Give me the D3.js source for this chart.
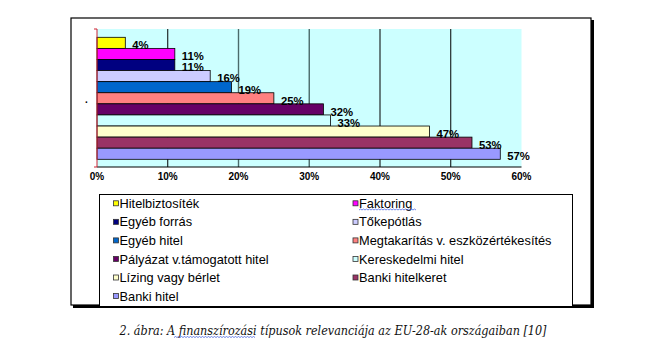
<!DOCTYPE html>
<html>
<head>
<meta charset="utf-8">
<script src="https://cdn.jsdelivr.net/npm/d3@7"></script>
<style>
body { margin: 0; background: #fff; }
</style>
</head>
<body>
<div id="chart"></div>
<script>
// data
var categories = ["Hitelbiztosíték", "Faktoring", "Egyéb forrás", "Tőkepótlás", "Egyéb hitel",
    "Megtakarítás v. eszközértékesítés", "Pályázat v.támogatott hitel", "Kereskedelmi hitel",
    "Lízing vagy bérlet", "Banki hitelkeret", "Banki hitel"]
var values = [4, 11, 11, 16, 19, 25, 32, 33, 47, 53, 57]
var colors = ["#FFFF00", "#FF00FF", "#000080", "#CCCCFF", "#0066CC", "#FF8080",
    "#660066", "#CCFFFF", "#FFFFCC", "#993366", "#9999FF"]
var ticks = [0, 10, 20, 30, 40, 50, 60]
var caption = "2. ábra: A finanszírozási típusok relevanciája az EU-28-ak országaiban [10]"

var w = 650, h = 358

var svg = d3.select("#chart").append("svg")
    .attr("width", w)
    .attr("height", h)

// outer frame with shadow
svg.append("rect").attr("x", 73).attr("y", 20).attr("width", 521).attr("height", 288).attr("fill", "#000")
svg.append("rect").attr("x", 71).attr("y", 18).attr("width", 520).attr("height", 287)
    .attr("fill", "#fff").attr("stroke", "#000").attr("stroke-width", 1.2)

var x = d3.scaleLinear().domain([0, 60]).range([97, 521.5])
var y = d3.scaleBand().domain(categories).range([37.3, 159.3]).padding(0)
var plotTop = 29, plotBottom = 167

// plot background
svg.append("rect")
    .attr("x", x(0)).attr("y", plotTop)
    .attr("width", x(60) - x(0)).attr("height", plotBottom - plotTop)
    .attr("fill", "#CCFFFF")

// gridlines
svg.selectAll(".grid")
    .data(ticks.slice(1, -1))
    .enter()
    .append("line")
    .attr("x1", function(d) { return x(d) })
    .attr("x2", function(d) { return x(d) })
    .attr("y1", plotTop).attr("y2", plotBottom)
    .attr("stroke", function(d) { return (d == 20 || d == 30) ? "#4a6a6a" : "#000" })
    .attr("stroke-width", function(d) { return (d == 20 || d == 30) ? 1.4 : 1 })

// bars
svg.selectAll(".bar")
    .data(values)
    .enter()
    .append("rect")
    .attr("x", x(0))
    .attr("y", function(d, i) { return y(categories[i]) })
    .attr("width", function(d) { return x(d) - x(0) })
    .attr("height", y.bandwidth())
    .attr("fill", function(d, i) { return colors[i] })
    .attr("stroke", "#000")
    .attr("stroke-width", 0.8)

// value labels
svg.selectAll(".vlabel")
    .data(values)
    .enter()
    .append("text")
    .attr("x", function(d) { return x(d) + 7 })
    .attr("y", function(d, i) { return y(categories[i]) + y.bandwidth() + 0.8 })
    .text(function(d) { return d + "%" })
    .attr("font-family", "Liberation Sans, Arial, sans-serif")
    .attr("font-size", "11.3px")
    .attr("font-weight", "bold")
    .attr("fill", "#000")

// x axis
svg.append("line")
    .attr("x1", x(0)).attr("x2", x(60))
    .attr("y1", plotBottom).attr("y2", plotBottom)
    .attr("stroke", "#000")

svg.selectAll(".tick")
    .data(ticks)
    .enter()
    .append("text")
    .attr("x", function(d) { return x(d) })
    .attr("y", 179.5)
    .attr("text-anchor", "middle")
    .text(function(d) { return d + "%" })
    .attr("font-family", "Liberation Sans, Arial, sans-serif")
    .attr("font-size", "10px")
    .attr("font-weight", "bold")

// category axis (red)
svg.append("path")
    .attr("d", "M" + (x(0) - 3) + "," + plotTop + "H" + x(0) + "V" + plotBottom + "H" + (x(0) - 3))
    .attr("fill", "none")
    .attr("stroke", "#cc2233")
    .attr("stroke-width", 1)

svg.append("text")
    .attr("x", 85).attr("y", 103)
    .text(".")
    .attr("font-family", "Liberation Sans, Arial, sans-serif")
    .attr("font-size", "10px")
    .attr("font-weight", "bold")

// legend
svg.append("rect")
    .attr("x", 99.5).attr("y", 194.5)
    .attr("width", 473).attr("height", 112)
    .attr("fill", "#fff").attr("stroke", "#000").attr("stroke-width", 1)

var legend = svg.selectAll(".legend")
    .data(categories)
    .enter()
    .append("g")
    .attr("transform", function(d, i) {
        var col = i % 2, row = Math.floor(i / 2)
        return "translate(" + (col == 0 ? 113 : 352.5) + "," + (203.3 + row * 18.55) + ")"
    })

legend.append("rect")
    .attr("x", 0.5).attr("y", -2.5)
    .attr("width", 5).attr("height", 5)
    .attr("fill", function(d, i) { return colors[i] })
    .attr("stroke", "#333")
    .attr("stroke-width", 0.8)

legend.append("text")
    .attr("x", 6.5).attr("y", 4.6)
    .text(function(d) { return d })
    .attr("font-family", "Liberation Sans, Arial, sans-serif")
    .attr("font-size", "12.8px")
    .attr("fill", "#000")

// spellcheck squiggle under "Faktoring"
function squiggle(x0, x1, yy) {
    var p = d3.path()
    p.moveTo(x0, yy)
    var up = true
    for (var xx = x0 + 1.5; xx <= x1; xx += 1.5) {
        p.lineTo(xx, up ? yy - 1 : yy)
        up = !up
    }
    return p.toString()
}
svg.append("path")
    .attr("d", squiggle(359, 417, 210))
    .attr("fill", "none").attr("stroke", "#3355dd").attr("stroke-width", 0.7)

// caption
svg.append("text")
    .attr("x", 333).attr("y", 334.5)
    .attr("text-anchor", "middle")
    .attr("textLength", 427)
    .attr("lengthAdjust", "spacingAndGlyphs")
    .text(caption)
    .attr("font-family", "DejaVu Serif, serif")
    .attr("font-style", "italic")
    .attr("font-size", "12px")
    .attr("fill", "#111")

svg.append("path")
    .attr("d", squiggle(174, 255, 337.5))
    .attr("fill", "none").attr("stroke", "#3355dd").attr("stroke-width", 0.7)
</script>
</body>
</html>
